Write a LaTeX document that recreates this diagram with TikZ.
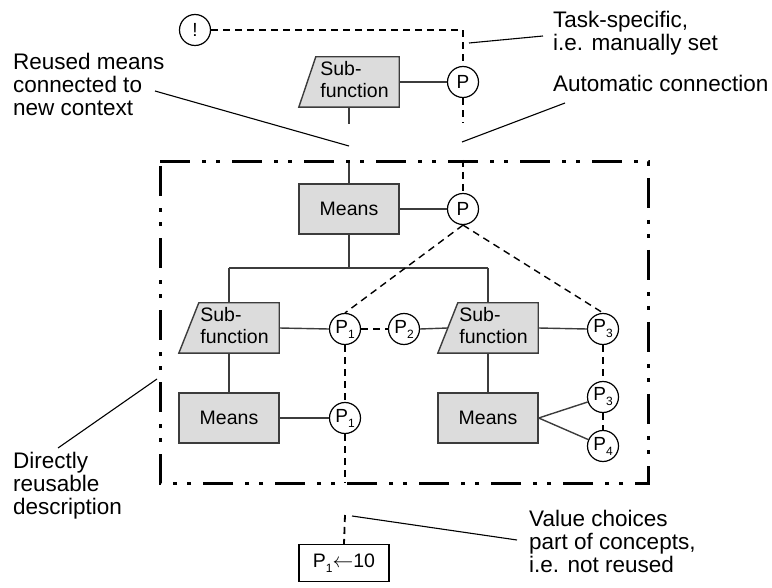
\documentclass[tikz,border=0pt]{standalone}
\usepackage{fontspec}
\setmainfont{Liberation Sans}
\usetikzlibrary{calc,backgrounds}
\definecolor{boxfill}{HTML}{DCDCDC}
\definecolor{linegray}{HTML}{3C3C3C}
% parameter with a lowered index
\newcommand\Psub[1]{P\raisebox{-0.5ex}{\fontsize{12}{12}\selectfont #1}}
% two-line sub-function caption, nudged right of the slanted edge
\newcommand\sfText{\hspace*{11pt}\begin{tabular}{@{}l@{}}Sub-\\[-1pt]function\end{tabular}}

\begin{document}
\begin{tikzpicture}[x=1pt,y=-1pt,
  every node/.style={inner sep=0pt},
  sfbox/.style={rectangle, minimum width=100pt, minimum height=50pt,
    font=\fontsize{19.5}{23}\selectfont},
  meansbox/.style={rectangle, draw=linegray, line width=1.4pt, fill=boxfill,
    minimum width=100pt, minimum height=50pt, font=\fontsize{19.5}{23}\selectfont},
  param/.style={circle, draw=black, line width=1.2pt, fill=white, minimum size=31pt,
    font=\fontsize{19}{19}\selectfont},
  link/.style={draw=linegray, line width=1.4pt},
  assoc/.style={draw=black, line width=1.8pt, dash pattern=on 7pt off 5pt},
  leader/.style={draw=black, line width=1.1pt},
  label/.style={anchor=base west, align=left, font=\fontsize{22.5}{23}\selectfont},
  frame/.style={draw=black, line width=3pt,
    dash pattern=on 30pt off 12pt on 4pt off 10pt on 4pt off 12pt}
]
\useasboundingbox (0,0) rectangle (772,588);

% ---- top: sub-function being designed ----
\node[param] (excl) at (195,30) {!};
\node[sfbox] (sfTop) at (349,82) {\sfText};
\node[param] (pTop) at (463,82) {P};
\coordinate (topStub) at (349,124);
\coordinate (pTopStub) at (463,123);

% ---- reused description ----
\coordinate (frameTop) at (349,162);
\coordinate (pMidStub) at (463,160);
\node[meansbox] (mTop) at (349,209) {Means};
\node[param] (pMid) at (463,209) {P};
\coordinate (fork) at (349,268);
\coordinate (forkL) at (229,268);
\coordinate (forkR) at (488,268);

\node[sfbox] (sfL) at (229,328) {\sfText};
\node[sfbox] (sfR) at (488,328) {\sfText};
\node[param] (p1a) at (345,329) {\Psub{1}};
\node[param] (p2) at (404,329) {\Psub{2}};
\node[param] (p3a) at (603,329) {\Psub{3}};

\node[meansbox] (mL) at (229,418) {Means};
\node[meansbox] (mR) at (488,418) {Means};
\node[param] (p1b) at (345,418) {\Psub{1}};
\node[param] (p3b) at (603,397) {\Psub{3}};
\node[param] (p4) at (603,446) {\Psub{4}};

\coordinate (frameBot) at (345,483);
\coordinate (valStub) at (345,515);
\node[draw=black, line width=1.2pt, fill=white, minimum width=90pt, minimum height=37pt,
  font=\fontsize{19.5}{23}\selectfont] (val) at (344,563) {\Psub{1}$\leftarrow$10};

% slanted sub-function outlines behind their text
\begin{scope}[on background layer]
  \foreach \n/\s in {sfTop/17,sfL/20,sfR/20}
    \draw[link, fill=boxfill] ([xshift=\s pt]\n.north west) -- (\n.north east)
      -- (\n.south east) -- (\n.south west) -- cycle;
\end{scope}
\coordinate (sfRside) at ($(sfR.west)+(10,0)$);

% ---- solid structure links ----
\draw[link] (sfTop.east) -- (pTop.west);
\draw[link] (sfTop.south) -- (topStub);
\draw[link] (frameTop) -- (mTop.north);
\draw[link] (mTop.east) -- (pMid.west);
\draw[link] (mTop.south) -- (fork);
\draw[link] (forkL) -- (forkR);
\draw[link] (forkL) -- (sfL.north);
\draw[link] (forkR) -- (sfR.north);
\draw[link] (sfL.south) -- (mL.north);
\draw[link] (sfR.south) -- (mR.north);
\draw[link] (sfL.east) -- (p1a.west);
\draw[link] (p2.east) -- (sfRside);
\draw[link] (sfR.east) -- (p3a.west);
\draw[link] (mL.east) -- (p1b.west);
\draw[link] (mR.east) -- (p3b);
\draw[link] (mR.east) -- (p4);

% ---- parameter associations ----
\draw[assoc] (excl.east) -- (pTopStub |- excl) -- (pTop.north);
\draw[assoc] (pTop.south) -- (pTopStub);
\draw[assoc] (pMidStub) -- (pMid.north);
\draw[assoc, line width=1.4pt] (pMid.south) -- (p1a.north);
\draw[assoc, line width=1.4pt] (pMid.south) -- (p3a.north);
\draw[assoc] (p1a.east) -- (p2.west);
\draw[assoc] (p1a.south) -- (p1b.north);
\draw[assoc] (p1b.south) -- (frameBot);
\draw[assoc] (valStub) -- (val.north);
\draw[assoc] (p3a.south) -- (p3b.north);
\draw[assoc] (p3b.south) -- (p4.north);

% ---- reusable frame ----
\draw[frame] (160,162) -- (648,162) -- (648,483) -- (160,483) -- cycle;

% ---- annotations (anchored at the baseline of their last line) ----
\node[label] (taskLbl) at (553,51) {Task-specific,\\i.e. manually set};
\node[label] (autoLbl) at (553,92) {Automatic connection};
\node[label] (reuseLbl) at (13,116) {Reused means\\connected to\\new context};
\node[label] (directLbl) at (13,514) {Directly\\reusable\\description};
\node[label] (valueLbl) at (529,572) {Value choices\\part of concepts,\\i.e. not reused};

\coordinate (taskA) at (469,43);   \coordinate (taskB) at (543,36);
\coordinate (autoA) at (462,142);  \coordinate (autoB) at (565,103);
\coordinate (reuseA) at (155,91);  \coordinate (reuseB) at (349,146);
\coordinate (dirA) at (58,448);    \coordinate (dirB) at (157,379);
\coordinate (valA) at (352,516);   \coordinate (valB) at (517,540);
\draw[leader] (taskA) -- (taskB);
\draw[leader] (autoA) -- (autoB);
\draw[leader] (reuseA) -- (reuseB);
\draw[leader] (dirA) -- (dirB);
\draw[leader] (valA) -- (valB);
\end{tikzpicture}
\end{document}
